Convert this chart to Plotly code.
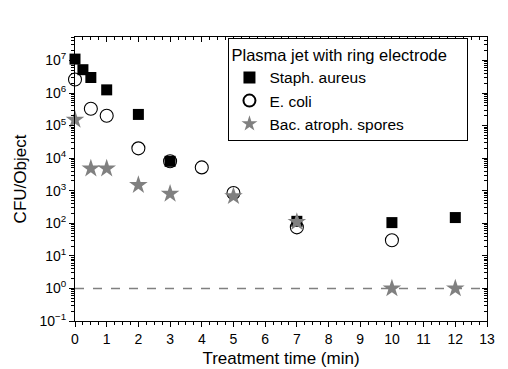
import plotly.graph_objects as go

staph_t = [0, 0.25, 0.5, 1, 2, 3, 7, 10, 12]
staph_v = [1.1e7, 5.2e6, 3.0e6, 1.25e6, 2.2e5, 8.0e3, 115, 105, 150]

ecoli_t = [0, 0.5, 1, 2, 3, 4, 5, 7, 10]
ecoli_v = [2.6e6, 3.3e5, 2.0e5, 2.0e4, 8.0e3, 5.2e3, 850, 75, 30]

spore_t = [0, 0.5, 1, 2, 3, 5, 7, 10, 12]
spore_v = [1.5e5, 4.8e3, 4.8e3, 1.5e3, 800, 680, 110, 1, 1]

detect_limit = 1
x_range = [0, 13]
y_log_range = [-1, 7.72]
y_exponents = list(range(-1, 8))
x_ticks = list(range(0, 14))

FONT = "Liberation Sans, Arial, sans-serif"
GRAY = "#808080"

y_major = [10.0 ** e for e in y_exponents]
y_text = ["10<sup>%s</sup>" % (str(e) if e >= 0 else "\u2212" + str(-e)) for e in y_exponents]
y_minor = [m * 10.0 ** e for e in y_exponents for m in range(2, 10) if m * 10.0 ** e < 10 ** y_log_range[1]]
x_minor = [i * 0.25 for i in range(0, 53) if i % 4 != 0]

fig = go.Figure()

fig.add_trace(go.Scatter(
    x=x_range, y=[detect_limit, detect_limit], mode="lines",
    line=dict(color=GRAY, width=1.5, dash="dash"), showlegend=False,
    hoverinfo="skip"))

fig.add_trace(go.Scatter(
    x=staph_t, y=staph_v, mode="markers", name="Staph. aureus",
    marker=dict(symbol="square", size=11, color="black",
                line=dict(width=0)), cliponaxis=False))
fig.add_trace(go.Scatter(
    x=ecoli_t, y=ecoli_v, mode="markers", name="E. coli",
    marker=dict(symbol="circle-open", size=13, color="black",
                line=dict(width=1.1)), cliponaxis=False))
fig.add_trace(go.Scatter(
    x=spore_t, y=spore_v, mode="markers", name="Bac. atroph. spores",
    marker=dict(symbol="star", size=14, color=GRAY,
                line=dict(width=0)), cliponaxis=False))

for xa, ya in [("x2", "y2"), ("x3", "y3"), ("x4", "y4")]:
    fig.add_trace(go.Scatter(x=[1], y=[1], xaxis=xa, yaxis=ya, mode="markers",
                             marker=dict(opacity=0), showlegend=False,
                             hoverinfo="skip"))

common = dict(showgrid=False, zeroline=False, tickcolor="black",
              linecolor="black", linewidth=1, tickwidth=1, automargin=False)

fig.update_layout(
    width=508, height=369,
    margin=dict(l=67, r=29, t=29, b=56),
    paper_bgcolor="white", plot_bgcolor="white",
    font=dict(family=FONT, size=14, color="black"),
    showlegend=True,
    legend=dict(
        title=dict(text="Plasma jet with ring electrode\u00a0\u00a0\u00a0\u00a0",
                   font=dict(family=FONT, size=16.5)),
        x=0.955, xanchor="right", y=0.995, yanchor="top",
        bgcolor="white", bordercolor="black", borderwidth=1,
        font=dict(family=FONT, size=15.5), tracegroupgap=0,
        itemsizing="constant",
    ),
    xaxis=dict(
        range=x_range, tickmode="array", tickvals=x_ticks,
        ticks="outside", ticklen=5, showline=True,
        title=dict(text="Treatment time (min)", font=dict(size=17), standoff=6),
        tickfont=dict(size=14), **common,
    ),
    yaxis=dict(
        type="log", range=y_log_range, tickmode="array",
        tickvals=y_major, ticktext=y_text,
        ticks="outside", ticklen=5, showline=True,
        title=dict(text="CFU/Object", font=dict(size=17), standoff=8),
        tickfont=dict(size=14), **common,
    ),
    xaxis2=dict(overlaying="x", anchor="y2", side="bottom", range=x_range,
                tickmode="array", tickvals=x_minor, ticks="outside", ticklen=3,
                showticklabels=False, showline=False, **common),
    yaxis2=dict(overlaying="y", anchor="x2", side="left", type="log",
                range=y_log_range, tickmode="array", tickvals=y_minor,
                ticks="outside", ticklen=3, showticklabels=False,
                showline=False, **common),
    xaxis3=dict(overlaying="x", anchor="y3", side="top", range=x_range,
                tickmode="array", tickvals=x_ticks, ticks="inside", ticklen=5,
                showticklabels=False, showline=True, **common),
    yaxis3=dict(overlaying="y", anchor="x3", side="right", type="log",
                range=y_log_range, tickmode="array", tickvals=y_major,
                ticks="inside", ticklen=5, showticklabels=False,
                showline=True, **common),
    xaxis4=dict(overlaying="x", anchor="y4", side="top", range=x_range,
                tickmode="array", tickvals=x_minor, ticks="inside", ticklen=3,
                showticklabels=False, showline=False, **common),
    yaxis4=dict(overlaying="y", anchor="x4", side="right", type="log",
                range=y_log_range, tickmode="array", tickvals=y_minor,
                ticks="inside", ticklen=3, showticklabels=False,
                showline=False, **common),
)

fig.write_html("out.html")
